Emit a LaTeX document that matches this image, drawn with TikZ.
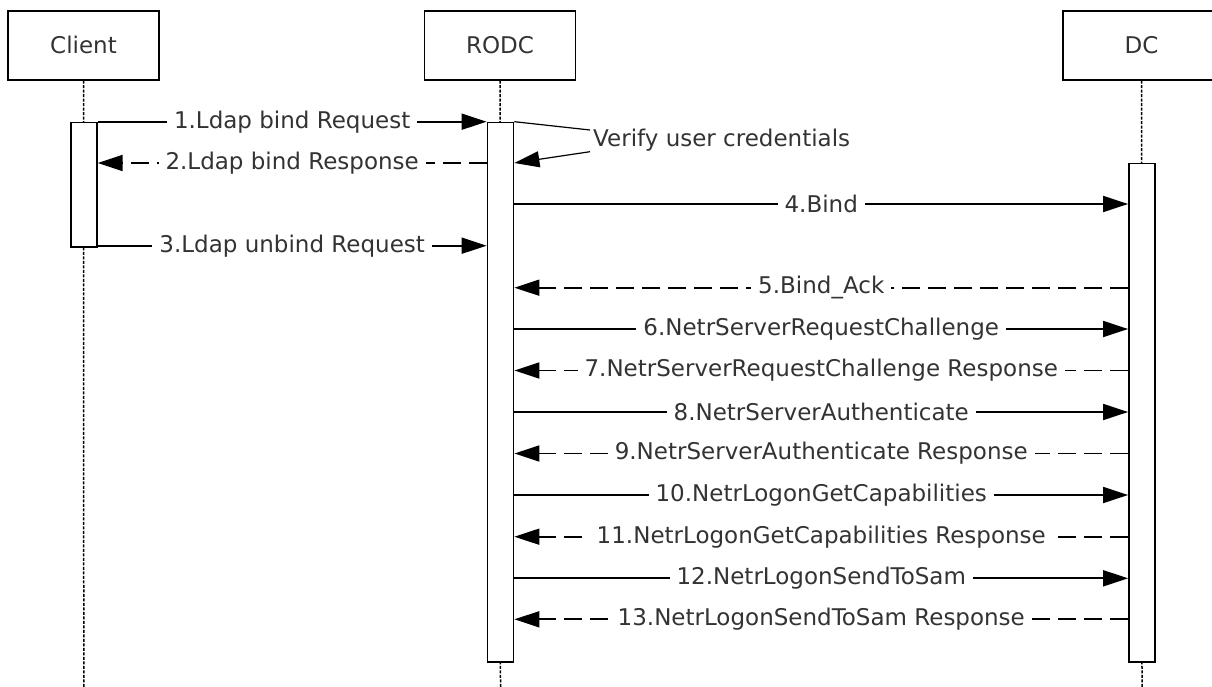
\documentclass[tikz,border=0pt]{standalone}
\usepackage{fontspec}
\setmainfont{DejaVu Sans}
\usetikzlibrary{arrows.meta}
\definecolor{txt}{HTML}{333333}
\begin{document}
\begin{tikzpicture}[x=1pt,y=-1pt,
  lbox/.style={draw, line width=1.8pt, minimum width=151pt, minimum height=69pt, inner sep=0pt, text=txt, font=\fontsize{23}{27}\selectfont},
  act/.style={draw, line width=1.8pt, fill=white, minimum width=26pt, inner sep=0pt},
  life/.style={line width=1.5pt, dash pattern=on 3pt off 1.5pt},
  msg/.style={line width=1.8pt, -{Triangle[length=25pt,width=16pt]}},
  ret/.style={msg, dash pattern=on 18pt off 8pt},
  lbl/.style={fill=white, text=txt, font=\fontsize{23}{27}\selectfont, inner xsep=7pt, inner ysep=1pt},
  note/.style={text=txt, font=\fontsize{23}{27}\selectfont, inner sep=0pt, anchor=west}
]
\useasboundingbox (0,0) rectangle (1212,687);

% participants
\node[lbox] (client) at (83.5,45.35) {Client};
\node[lbox] (rodc) at (500,45.35) {RODC};
\node[lbox, minimum width=157pt] (dc) at (1141.5,45.35) {DC};

% bottom ends of lifelines
\coordinate (cbot) at (83.8,687);
\coordinate (rbot) at (500.5,687);
\coordinate (dbot) at (1142,687);

% activation positions
\coordinate (cact0) at (83.8,121.7);
\coordinate (ract0) at (500.5,121.7);
\coordinate (dact0) at (1142,162.7);

% lifelines
\draw[life] (client.south) -- (cbot);
\draw[life] (rodc.south) -- (rbot);
\draw[life] (dc.south) -- (dbot);

% activations
\node[act, minimum height=124pt, anchor=north] (cact) at (cact0) {};
\node[act, minimum height=539.6pt, anchor=north] (ract) at (ract0) {};
\node[act, minimum height=498.6pt, anchor=north] (dact) at (dact0) {};

% message rows
\coordinate (r1) at (0,121.7);
\coordinate (r2) at (0,163);
\coordinate (r3) at (0,245.7);
\coordinate (r4) at (0,204);
\coordinate (r5) at (0,287.7);
\coordinate (r6) at (0,329);
\coordinate (r7) at (0,370.5);
\coordinate (r8) at (0,412);
\coordinate (r9) at (0,453.5);
\coordinate (r10) at (0,495);
\coordinate (r11) at (0,536.7);
\coordinate (r12) at (0,578.3);
\coordinate (r13) at (0,619.3);

% client <-> RODC
\draw[msg] (cact.east |- r1) -- node[lbl] (l1) {1.Ldap bind Request} (ract.west |- r1);
\draw[ret] (ract.west |- r2) -- node[lbl] (l2) {2.Ldap bind Response} (cact.east |- r2);
\draw[msg] (cact.east |- r3) -- node[lbl] (l3) {3.Ldap unbind Request} (ract.west |- r3);

% self message
\coordinate (v1) at (590,130);
\coordinate (v2) at (590,151.7);
\draw[line width=1.2pt] (ract.east |- r1) -- (v1);
\draw[line width=1.2pt, -{Triangle[length=25pt,width=16pt]}] (v2) -- (ract.east |- r2);
\node[note] (verify) at (593,140) {Verify user credentials};

% RODC <-> DC
\draw[msg] (ract.east |- r4) -- node[lbl] (l4) {4.Bind} (dact.west |- r4);
\draw[ret] (dact.west |- r5) -- node[lbl] (l5) {5.Bind\_Ack} (ract.east |- r5);
\draw[msg] (ract.east |- r6) -- node[lbl] (l6) {6.NetrServerRequestChallenge} (dact.west |- r6);
\draw[ret] (dact.west |- r7) -- node[lbl] (l7) {7.NetrServerRequestChallenge Response} (ract.east |- r7);
\draw[msg] (ract.east |- r8) -- node[lbl] (l8) {8.NetrServerAuthenticate} (dact.west |- r8);
\draw[ret] (dact.west |- r9) -- node[lbl] (l9) {9.NetrServerAuthenticate Response} (ract.east |- r9);
\draw[msg] (ract.east |- r10) -- node[lbl] (l10) {10.NetrLogonGetCapabilities} (dact.west |- r10);
\draw[ret] (dact.west |- r11) -- node[lbl] (l11) {11.NetrLogonGetCapabilities Response} (ract.east |- r11);
\draw[msg] (ract.east |- r12) -- node[lbl] (l12) {12.NetrLogonSendToSam} (dact.west |- r12);
\draw[ret] (dact.west |- r13) -- node[lbl] (l13) {13.NetrLogonSendToSam Response} (ract.east |- r13);
\end{tikzpicture}
\end{document}
